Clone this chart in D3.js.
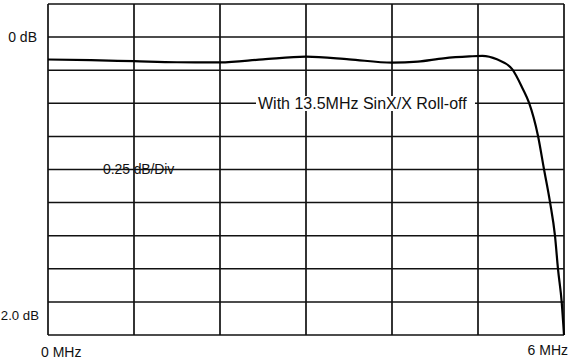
<!DOCTYPE html>
<html>
<head>
<meta charset="utf-8">
<script src="https://cdn.jsdelivr.net/npm/d3@7"></script>
<style>
  body { margin: 0; background: #fff; }
  text { font-family: "Liberation Sans", Arial, sans-serif; fill: #111; }
</style>
</head>
<body>
<svg id="chart" width="568" height="362"></svg>
<script>
// frequency response
const freqMHz = [0, 0.5, 1.0, 1.5, 2.0, 2.5, 3.0, 3.5, 4.0, 4.3, 4.6, 4.9, 5.05, 5.22, 5.395, 5.52, 5.593, 5.698, 5.767, 5.837, 5.895, 5.93, 5.973, 6.0]
const gainDb = [-0.169, -0.174, -0.182, -0.19, -0.191, -0.168, -0.148, -0.168, -0.193, -0.185, -0.16, -0.146, -0.142, -0.168, -0.24, -0.39, -0.495, -0.747, -0.996, -1.245, -1.50, -1.75, -2.0, -2.25]

const xGrid = [0, 1, 2, 3, 4, 5, 6]
const yGrid = [0.25, 0, -0.25, -0.5, -0.75, -1.0, -1.25, -1.5, -1.75, -2.0, -2.25]
const yLabels = ["0 dB", "2.0 dB"]
const xLabels = ["0 MHz", "6 MHz"]

const svg = d3.select("#chart")
const margin = {left: 48, right: 4, top: 4, bottom: 27}
const width = 568, height = 362

const x = d3.scaleLinear().domain([0, 6]).range([margin.left, width - margin.right])
const y = d3.scaleLinear().domain([-2.25, 0.25]).range([height - margin.bottom, margin.top])

// grid
svg.append("g")
    .selectAll("line")
    .data(yGrid)
    .join("line")
        .attr("x1", x(0)).attr("x2", x(6))
        .attr("y1", d => y(d)).attr("y2", d => y(d))
        .attr("stroke", "#111")
        .attr("stroke-width", 1.5)

svg.append("g")
    .selectAll("line")
    .data(xGrid)
    .join("line")
        .attr("x1", d => x(d)).attr("x2", d => x(d))
        .attr("y1", y(0.25)).attr("y2", y(-2.25))
        .attr("stroke", "#111")
        .attr("stroke-width", 1.7)

// response curve
const line = d3.line()
    .x((d, i) => x(freqMHz[i]))
    .y(d => y(d))
    .curve(d3.curveMonotoneX)

svg.append("path")
    .datum(gainDb)
    .attr("d", line)
    .attr("fill", "none")
    .attr("stroke", "#000")
    .attr("stroke-width", 2.2)

// labels
svg.append("text").attr("x", 37).attr("y", y(0)).attr("dy", "0.35em")
    .attr("text-anchor", "end").attr("font-size", 14).text(yLabels[0])
svg.append("text").attr("x", 39).attr("y", y(-2.0) + 13).attr("dy", "0.35em")
    .attr("text-anchor", "end").attr("font-size", 13.2).text(yLabels[1])

svg.append("text").attr("x", 41).attr("y", 352).attr("dy", "0.35em")
    .attr("font-size", 14).text(xLabels[0])
svg.append("text").attr("x", 568).attr("y", 350).attr("dy", "0.35em")
    .attr("text-anchor", "end").attr("font-size", 14).text(xLabels[1])

svg.append("text").attr("x", 103).attr("y", y(-1.0)).attr("dy", "0.35em")
    .attr("font-size", 14).attr("letter-spacing", -0.1).text("0.25 dB/Div")

// annotation with white box behind
svg.append("rect")
    .attr("x", 256).attr("y", 96).attr("width", 219).attr("height", 15)
    .attr("fill", "#fff")
svg.append("text").attr("x", 258).attr("y", y(-0.5)).attr("dy", "0.35em")
    .attr("font-size", 16).text("With 13.5MHz SinX/X Roll-off")
</script>
</body>
</html>
